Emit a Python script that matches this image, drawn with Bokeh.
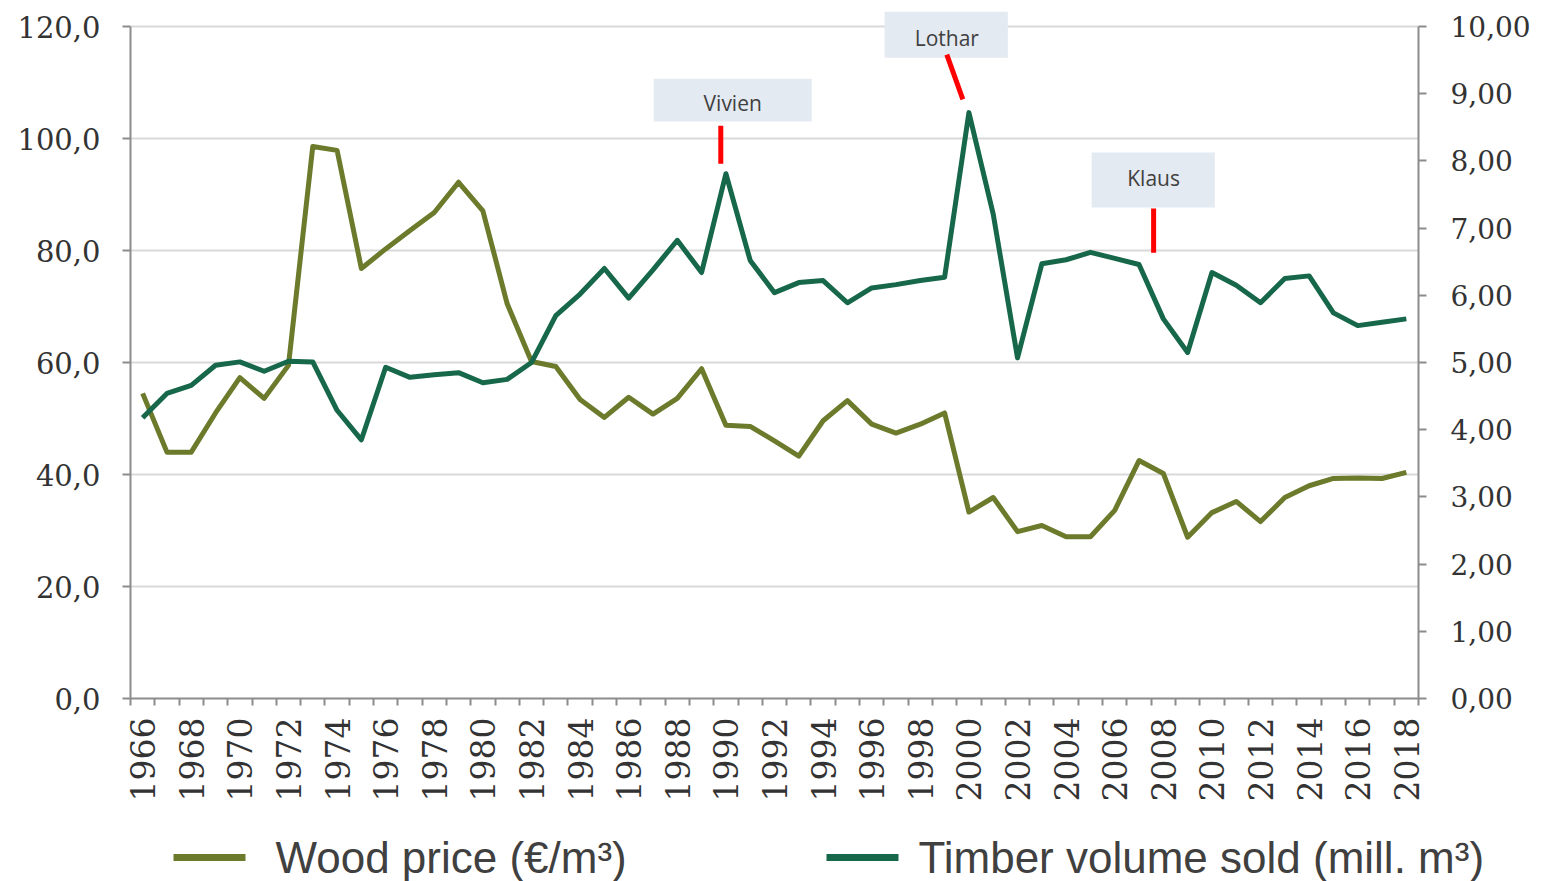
import math
from bokeh.plotting import figure
from bokeh.layouts import column
from bokeh.models import Range1d, LinearAxis, FixedTicker
from bokeh.embed import file_html
from bokeh.resources import INLINE
from bokeh.core.properties import value

# ---------------- data ----------------
years = list(range(1966, 2019))

wood_price = [
    54.5, 44.0, 44.0, 51.0, 57.3, 53.6, 59.5, 98.6, 97.9, 76.8,
    80.3, 83.6, 86.8, 92.2, 87.1, 70.5, 60.2, 59.3, 53.4, 50.2,
    53.8, 50.8, 53.6, 58.9, 48.8, 48.6, 46.0, 43.3, 49.6, 53.2,
    49.0, 47.4, 49.0, 51.0, 33.3, 35.9, 29.8, 30.9, 28.9, 28.9,
    33.6, 42.5, 40.2, 28.8, 33.2, 35.2, 31.6, 35.9, 38.0, 39.3,
    39.4, 39.3, 40.4,
]

timber_volume = [
    4.18, 4.54, 4.66, 4.96, 5.01, 4.87, 5.02, 5.01, 4.29, 3.85,
    4.93, 4.78, 4.82, 4.85, 4.70, 4.75, 5.00, 5.70, 6.02, 6.40,
    5.96, 6.38, 6.82, 6.34, 7.81, 6.52, 6.04, 6.19, 6.22, 5.89,
    6.11, 6.16, 6.22, 6.27, 8.72, 7.21, 5.07, 6.47, 6.53, 6.64,
    6.55, 6.46, 5.65, 5.15, 6.34, 6.15, 5.89, 6.25, 6.29, 5.74,
    5.55, 5.60, 5.65,
]

series_names = ["Wood price (€/m³)", "Timber volume sold (mill. m³)"]

left_ticks = [0, 20, 40, 60, 80, 100, 120]
left_tick_labels = ["0,0", "20,0", "40,0", "60,0", "80,0", "100,0", "120,0"]
right_ticks = [0, 1, 2, 3, 4, 5, 6, 7, 8, 9, 10]
right_tick_labels = ["0,00", "1,00", "2,00", "3,00", "4,00", "5,00",
                     "6,00", "7,00", "8,00", "9,00", "10,00"]
x_label_years = years[::2]

# storm annotations (positions in data units of the left axis)
storm_names = ["Vivien", "Lothar", "Klaus"]
storm_text_x = [1990.28, 1999.09, 2007.6]
storm_text_y = [106.4, 118.0, 92.9]
storm_box_left = [1987.03, 1996.53, 2005.05]
storm_box_right = [1993.53, 2001.6, 2010.12]
storm_box_bottom = [103.04, 114.46, 87.68]
storm_box_top = [110.7, 122.68, 97.5]
pointer_x0 = [1989.79, 1999.09, 2007.6]
pointer_y0 = [102.3, 115.0, 87.5]
pointer_x1 = [1989.79, 1999.75, 2007.6]
pointer_y1 = [95.5, 107.0, 79.6]

# legend layout (pixels within the legend strip)
legend_swatch_x0 = [173, 826]
legend_swatch_x1 = [245, 898]
legend_text_x = [275, 918]
legend_row_y = 24

# ---------------- styling ----------------
OLIVE = "#6b7a2b"
GREEN = "#17674a"
AXIS = "#8c8c8c"
GRID = "#d9d9d9"
TICKTXT = "#333333"
SERIF = "DejaVu Serif"

W = 1547
LEG_H = 71
Y_TOP = 122.7
RATIO = 12.0  # left units per right unit

p = figure(width=W, height=810,
           x_range=Range1d(1965.5, 2018.5),
           y_range=Range1d(0, Y_TOP),
           output_backend="svg", toolbar_location=None,
           min_border_left=130, min_border_right=129,
           min_border_top=11, min_border_bottom=112)
p.frame_align = False
p.outline_line_color = None
p.background_fill_color = "white"
p.border_fill_color = "white"

# x axis
xa = p.xaxis[0]
xa.ticker = FixedTicker(ticks=x_label_years,
                        minor_ticks=[y - 0.5 for y in years] + [years[-1] + 0.5])
xa.major_label_overrides = {y: str(y) for y in x_label_years}
xa.major_tick_out = 0
xa.major_tick_in = 0
xa.minor_tick_out = 7
xa.minor_tick_in = 0
xa.minor_tick_line_color = AXIS
xa.minor_tick_line_width = 2
xa.major_label_orientation = math.pi / 2
xa.major_label_standoff = 12
xa.axis_line_color = AXIS
xa.axis_line_width = 2
xa.major_label_text_font = SERIF
xa.major_label_text_font_size = "33px"
xa.major_label_text_color = TICKTXT
p.xgrid.visible = False

# left axis
ya = p.yaxis[0]
ya.ticker = FixedTicker(ticks=left_ticks, minor_ticks=[])
ya.major_label_overrides = dict(zip(left_ticks, left_tick_labels))
ya.bounds = (0, 120)
ya.major_tick_out = 8
ya.major_tick_in = 0
ya.minor_tick_out = 0
ya.minor_tick_in = 0
ya.major_tick_line_color = AXIS
ya.major_tick_line_width = 2
ya.axis_line_color = AXIS
ya.axis_line_width = 2
ya.major_label_standoff = 22
ya.major_label_text_font = SERIF
ya.major_label_text_font_size = "29px"
ya.major_label_text_color = TICKTXT
p.ygrid.ticker = FixedTicker(ticks=left_ticks)
p.ygrid.grid_line_color = GRID
p.ygrid.grid_line_width = 2

# right axis
p.extra_y_ranges = {"right": Range1d(0, Y_TOP / RATIO)}
ra = LinearAxis(y_range_name="right",
                ticker=FixedTicker(ticks=right_ticks, minor_ticks=[]))
ra.major_label_overrides = dict(zip(right_ticks, right_tick_labels))
ra.bounds = (0, 10)
ra.major_tick_out = 8
ra.major_tick_in = 0
ra.minor_tick_out = 0
ra.minor_tick_in = 0
ra.major_tick_line_color = AXIS
ra.major_tick_line_width = 2
ra.axis_line_color = AXIS
ra.axis_line_width = 2
ra.major_label_standoff = 24
ra.major_label_text_font = SERIF
ra.major_label_text_font_size = "28px"
ra.major_label_text_color = TICKTXT
p.add_layout(ra, "right")

# series
p.line(years, wood_price, line_color=OLIVE, line_width=5, line_join="round")
p.line(years, timber_volume, y_range_name="right",
       line_color=GREEN, line_width=5, line_join="round")

# storm annotations
p.quad(left=storm_box_left, right=storm_box_right,
       bottom=storm_box_bottom, top=storm_box_top,
       fill_color="#e4eaf1", line_color=None)
p.segment(x0=pointer_x0, y0=pointer_y0, x1=pointer_x1, y1=pointer_y1,
          line_color="#ff0000", line_width=5)
p.text(x=storm_text_x, y=storm_text_y, text=storm_names,
       text_align="center", text_baseline="middle",
       text_font=value("Open Sans"), text_font_size="21px",
       text_color="#404040")

# ---------------- legend strip below the chart ----------------
lg = figure(width=W, height=LEG_H, output_backend="svg", toolbar_location=None,
            x_range=Range1d(0, W), y_range=Range1d(0, LEG_H),
            x_axis_location=None, y_axis_location=None,
            min_border=0, min_border_left=0, min_border_right=0,
            min_border_top=0, min_border_bottom=0)
lg.frame_align = False
lg.outline_line_color = None
lg.xgrid.visible = False
lg.ygrid.visible = False
lg.segment(x0=legend_swatch_x0, x1=legend_swatch_x1,
           y0=[legend_row_y] * 2, y1=[legend_row_y] * 2,
           line_color=[OLIVE, GREEN], line_width=7)
lg.text(x=legend_text_x, y=[legend_row_y] * 2, text=series_names,
        text_align="left", text_baseline="middle",
        text_font=value("Liberation Sans"), text_font_size="44px",
        text_color="#404040")

layout = column(p, lg, spacing=0)
open("out.html", "w").write(file_html(layout, INLINE))
